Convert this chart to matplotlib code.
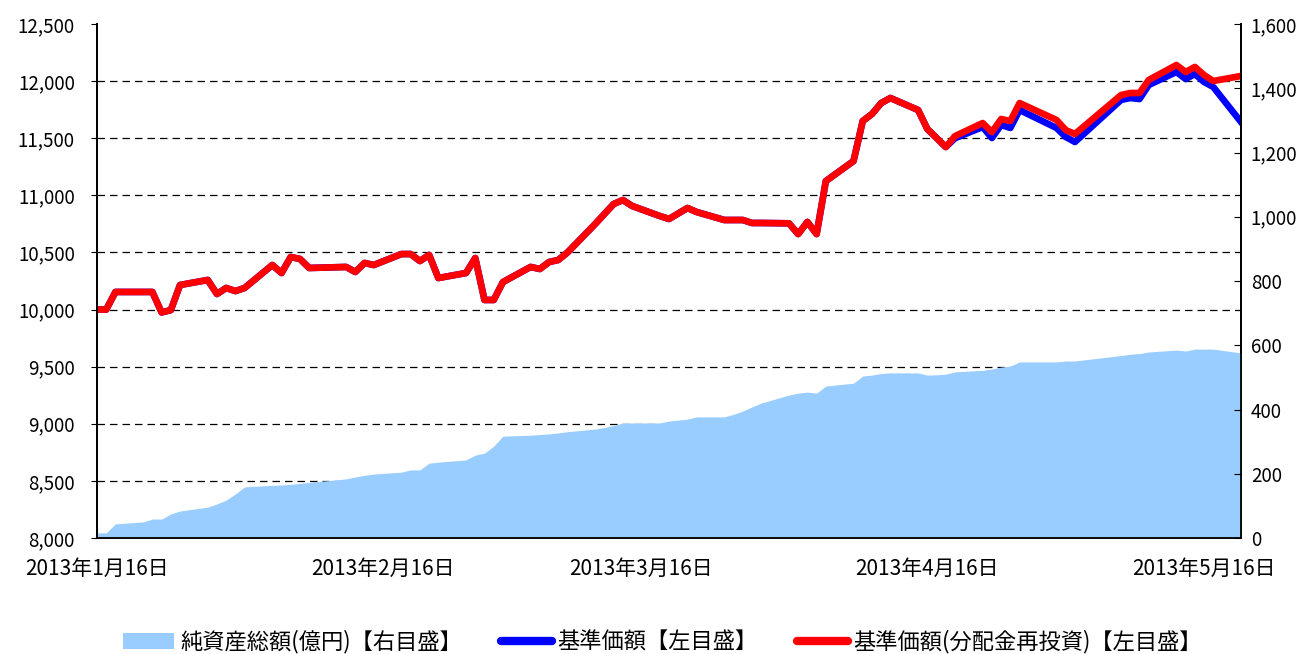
import datetime as dt
import matplotlib
matplotlib.use("Agg")
import matplotlib.pyplot as plt
import matplotlib.dates as mdates
from matplotlib.patches import Patch
from matplotlib.lines import Line2D
from matplotlib.ticker import FuncFormatter

plt.rcParams['font.family'] = ['Noto Sans CJK JP', 'DejaVu Sans']

# business days (Jan 16 - May 20, 2013)
days = ["01-16", "01-17", "01-18", "01-21", "01-22", "01-23", "01-24", "01-25",
        "01-28", "01-29", "01-30", "01-31", "02-01", "02-04", "02-05", "02-06",
        "02-07", "02-08", "02-12", "02-13", "02-14", "02-15", "02-18", "02-19",
        "02-20", "02-21", "02-22", "02-25", "02-26", "02-27", "02-28", "03-01",
        "03-04", "03-05", "03-06", "03-07", "03-08", "03-11", "03-12", "03-13",
        "03-14", "03-15", "03-18", "03-19", "03-21", "03-22", "03-25", "03-26",
        "03-27", "03-28", "03-29", "04-01", "04-02", "04-03", "04-04", "04-05",
        "04-08", "04-09", "04-10", "04-11", "04-12", "04-15", "04-16", "04-17",
        "04-18", "04-19", "04-22", "04-23", "04-24", "04-25", "04-26", "04-30",
        "05-01", "05-02", "05-07", "05-08", "05-09", "05-10", "05-13", "05-14",
        "05-15", "05-16", "05-17", "05-20"]
dates = [dt.datetime.strptime("2013-" + d, "%Y-%m-%d") for d in days]

# 基準価額(分配金再投資)
nav_reinvest = [10000, 10000, 10154, 10154, 10154, 9975, 9995, 10215,
                10259, 10136, 10189, 10162, 10189, 10390, 10320, 10460,
                10443, 10364, 10373, 10329, 10408, 10390, 10486, 10486,
                10425, 10478, 10276, 10320, 10451, 10084, 10084, 10241,
                10373, 10355, 10416, 10434, 10500, 10749, 10837, 10924,
                10959, 10907, 10819, 10793, 10889, 10854, 10784, 10784,
                10784, 10758, 10758, 10755, 10661, 10767, 10661, 11125,
                11300, 11651, 11712, 11808, 11852, 11747, 11581, 11502,
                11423, 11519, 11633, 11554, 11668, 11651, 11808, 11660,
                11572, 11537, 11878, 11896, 11896, 12010, 12141, 12080,
                12124, 12053, 12001, 12045]

# 基準価額
nav = [10000, 10000, 10154, 10154, 10154, 9975, 9995, 10215,
       10259, 10136, 10189, 10162, 10189, 10390, 10320, 10460,
       10443, 10364, 10373, 10329, 10408, 10390, 10486, 10486,
       10425, 10478, 10276, 10320, 10451, 10084, 10084, 10241,
       10373, 10355, 10416, 10434, 10500, 10749, 10837, 10924,
       10959, 10907, 10819, 10793, 10889, 10854, 10784, 10784,
       10784, 10758, 10758, 10755, 10661, 10767, 10661, 11125,
       11300, 11651, 11712, 11808, 11852, 11747, 11581, 11502,
       11423, 11500, 11598, 11502, 11616, 11590, 11747, 11590,
       11511, 11467, 11835, 11852, 11843, 11966, 12080, 12018,
       12062, 11992, 11948, 11642]

# 純資産総額(億円)
net_assets = [16, 16, 44, 50, 59, 59, 75, 84,
              96, 106, 118, 137, 159, 164, 165, 167,
              170, 173, 184, 190, 195, 199, 205, 212,
              212, 233, 236, 243, 258, 264, 286, 317,
              320, 322, 324, 327, 331, 339, 344, 350,
              358, 358, 358, 364, 370, 377, 377, 385,
              395, 408, 420, 445, 451, 454, 451, 473,
              482, 504, 507, 512, 514, 514, 507, 508,
              510, 517, 522, 526, 532, 535, 548, 548,
              551, 551, 568, 572, 574, 579, 585, 582,
              588, 588, 588, 576]

area_color = '#99CCFF'

fig = plt.figure(figsize=(13.12, 6.54), dpi=100)
ax = fig.add_axes([97/1312, 1-538/654, (1241-97)/1312, (538-24)/654])
ax2 = ax.twinx()

ax.plot(dates, nav, color='#0000FF', lw=4.8, solid_joinstyle='round', zorder=3)
ax.plot(dates, nav_reinvest, color='#FF0000', lw=4.8, solid_joinstyle='round', zorder=4)
ax2.fill_between(dates, net_assets, 0, color=area_color, lw=0)

ax.set_ylim(8000, 12500)
ax.set_yticks(range(8000, 12501, 500))
ax.yaxis.set_major_formatter(FuncFormatter(lambda v, p: f"{int(v):,}"))
ax2.set_ylim(0, 1600)
ax2.set_yticks(range(0, 1601, 200))
ax2.yaxis.set_major_formatter(FuncFormatter(lambda v, p: f"{int(v):,}"))

ax.set_xlim(dt.datetime(2013, 1, 16), dt.datetime(2013, 5, 20))
ax.xaxis.set_major_locator(mdates.MonthLocator(bymonthday=16))
ax.xaxis.set_major_formatter(FuncFormatter(
    lambda v, p: (lambda d: f"{d.year}年{d.month}月{d.day}日")(mdates.num2date(v))))

# dashed grid, none on the top edge
ax.grid(axis='y', color='black', linestyle=(0, (6, 4)), lw=0.9)
ax.grid(axis='x', visible=False)
ax.get_ygridlines()[-1].set_visible(False)

for a in (ax, ax2):
    a.spines['top'].set_visible(False)
    for s in ('left', 'right', 'bottom'):
        a.spines[s].set_color('black')
        a.spines[s].set_linewidth(1.3)

ax.tick_params(axis='y', direction='out', length=4, pad=12, labelsize=13.5)
ax.tick_params(axis='x', direction='in', length=7, pad=14, labelsize=15)
ax2.tick_params(axis='y', direction='in', length=5, pad=7, labelsize=13.5)

handles = [Patch(facecolor=area_color, edgecolor='none'),
           Line2D([], [], color='#0000FF', lw=6, solid_capstyle='round'),
           Line2D([], [], color='#FF0000', lw=6, solid_capstyle='round')]
labels = ['純資産総額(億円)【右目盛】', '基準価額【左目盛】', '基準価額(分配金再投資)【左目盛】']
fig.legend(handles, labels, loc='lower center', bbox_to_anchor=(0.505, -0.03), ncol=3,
           frameon=False, fontsize=16, handlelength=2.3, handleheight=0.7,
           handletextpad=0.25, columnspacing=1.75)

fig.savefig('out.png', dpi=100)
